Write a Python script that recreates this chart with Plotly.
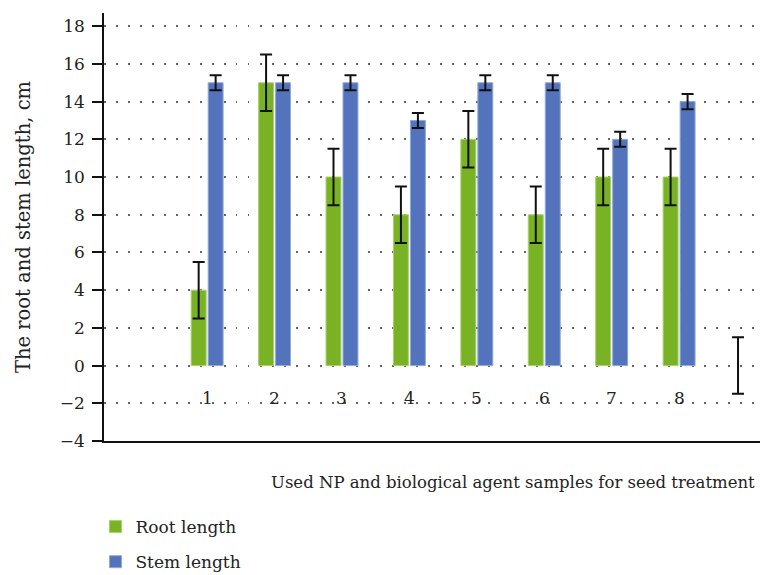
import plotly.graph_objects as go

# Treatment samples (9th slot holds only the root reference error bar)
categories = [1, 2, 3, 4, 5, 6, 7, 8, 9]
tick_labels = ["1", "2", "3", "4", "5", "6", "7", "8"]

root_length = [4, 15, 10, 8, 12, 8, 10, 10, 0]
root_error = [1.5, 1.5, 1.5, 1.5, 1.5, 1.5, 1.5, 1.5, 1.5]

stem_length = [15, 15, 15, 13, 15, 15, 12, 14]
stem_error = [0.4, 0.4, 0.4, 0.4, 0.4, 0.4, 0.4, 0.4]

y_ticks = [-4, -2, 0, 2, 4, 6, 8, 10, 12, 14, 16, 18]

GREEN = "#79B325"
BLUE = "#5373BC"
FONT = "DejaVu Serif"

err_style = dict(type="data", visible=True, color="#111111", thickness=2, width=6)

fig = go.Figure()
fig.add_trace(go.Bar(
    x=categories, y=root_length, name="Root length",
    marker=dict(color=GREEN,
                line=dict(color="#A9D06E",
                          width=[1 if v else 0 for v in root_length])),
    error_y=dict(array=root_error, **err_style),
    legendgroup="root",
))
fig.add_trace(go.Bar(
    x=categories[:len(stem_length)], y=stem_length, name="Stem length",
    marker=dict(color=BLUE, line=dict(color="#91A8DA", width=1)),
    error_y=dict(array=stem_error, **err_style),
    legendgroup="stem",
))

# Category labels sit just under the zero line, inside the plot
for cat, lab in zip(categories, tick_labels):
    fig.add_annotation(x=cat, y=-1.7, text=lab, showarrow=False,
                       xref="x", yref="y", yanchor="middle",
                       font=dict(family=FONT, size=17, color="#222"))

fig.add_annotation(
    text="Used NP and biological agent samples for seed treatment",
    x=0.995, y=-0.098, xref="paper", yref="paper",
    xanchor="right", yanchor="middle", showarrow=False,
    font=dict(family=FONT, size=16.5, color="#222"),
)

fig.update_layout(
    width=760, height=575,
    margin=dict(l=104, r=0, t=13, b=134, autoexpand=False),
    paper_bgcolor="white", plot_bgcolor="white",
    barmode="group", bargap=0.496, bargroupgap=0.12,
    font=dict(family=FONT, color="#222"),
    legend=dict(
        x=-0.013, y=-0.159, xanchor="left", yanchor="top",
        orientation="v", traceorder="grouped", tracegroupgap=10,
        font=dict(family=FONT, size=17, color="#222"),
        bgcolor="rgba(0,0,0,0)",
    ),
    xaxis=dict(
        range=[-0.53, 9.2], showticklabels=False, ticks="",
        showgrid=False, zeroline=False,
        showline=True, linecolor="#111", linewidth=1.5,
    ),
    yaxis=dict(
        range=[-4, 18.7], tickvals=y_ticks,
        ticks="outside", ticklen=10, tickwidth=1.5, tickcolor="#111",
        ticklabelstandoff=4,
        showline=True, linecolor="#111", linewidth=1.5,
        showgrid=True, gridcolor="#666", gridwidth=1.5,
        griddash="1.5px,10.5px", zeroline=False,
        tickfont=dict(family=FONT, size=17, color="#222"),
        title=dict(text="The root and stem length, cm",
                   font=dict(family=FONT, size=19.5, color="#222"),
                   standoff=24),
    ),
)

fig.write_html("out.html")
